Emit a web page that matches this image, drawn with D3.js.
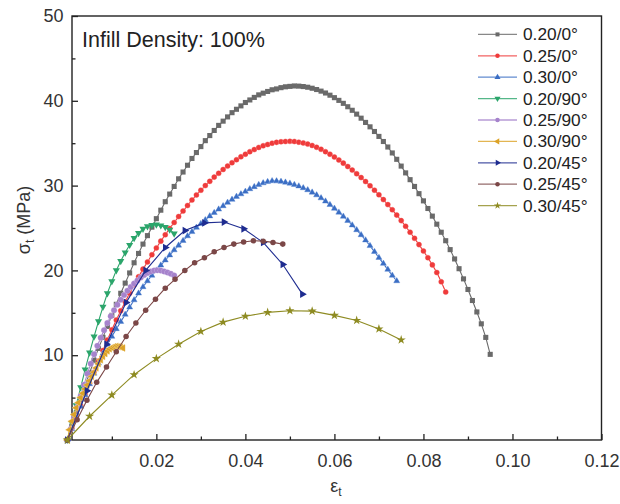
<!DOCTYPE html>
<html><head><meta charset="utf-8">
<script src="https://cdn.jsdelivr.net/npm/d3@7"></script>
<style>
html,body{margin:0;padding:0;background:#fff;}
svg{display:block;font-family:"Liberation Sans",Arial,Helvetica,sans-serif;}
</style></head>
<body><svg id="c" width="620" height="504"></svg>
<script>
// ---- data ----
const seriesNames = ["0.20/0°","0.25/0°","0.30/0°","0.20/90°","0.25/90°","0.30/90°","0.20/45°","0.25/45°","0.30/45°"];
const seriesColors = ["#6a6a6a","#ef3b3b","#3b6ec4","#2ba56b","#a683cc","#dca227","#1e2c90","#7b4747","#8e8b22"];
const xTicks = [0.02,0.04,0.06,0.08,0.10,0.12];
const yTicks = [10,20,30,40,50];

const strainGrid = [0,0.001,0.002,0.003,0.004,0.005,0.006,0.007,0.008,0.009,0.010,0.011,0.012,0.013,0.014,0.015,0.016,0.017,0.018,0.019,0.020,0.021,0.022,0.023,0.024,0.025,0.026,0.027,0.028,0.029,0.030,0.031,0.032,0.033,0.034,0.035,0.036,0.037,0.038,0.039,0.040,0.041,0.042,0.043,0.044,0.045,0.046,0.047,0.048,0.049,0.050,0.051,0.052,0.053,0.054,0.055,0.056,0.057,0.058,0.059,0.060,0.061,0.062,0.063,0.064,0.065,0.066,0.067,0.068,0.069,0.070,0.071,0.072,0.073,0.074,0.075,0.076,0.077,0.078,0.079,0.080,0.081,0.082,0.083,0.084,0.085,0.086,0.087,0.088,0.089,0.090,0.091,0.092,0.093,0.094,0.095];

const s020_0 = [0,1.6,3.2,4.8,6.4,7.9,9.4,10.8,12.1,13.4,14.7,16.0,17.3,18.5,19.7,20.9,22.0,23.1,24.1,25.1,26.1,27.1,28.1,29.0,29.9,30.8,31.6,32.4,33.2,33.9,34.6,35.3,35.9,36.5,37.1,37.6,38.1,38.6,39.0,39.4,39.8,40.1,40.4,40.7,40.9,41.1,41.3,41.4,41.55,41.65,41.7,41.75,41.73,41.68,41.6,41.48,41.33,41.14,40.92,40.66,40.37,40.05,39.7,39.3,38.88,38.43,37.95,37.45,36.93,36.38,35.8,35.2,34.55,33.85,33.1,32.3,31.5,30.7,29.9,29.05,28.2,27.3,26.4,25.45,24.5,23.5,22.45,21.35,20.2,19.0,17.75,16.45,15.1,13.7,12.1,10.1];
const s025_0 = [0,1.35,2.7,4.05,5.4,6.7,8.0,9.3,10.55,11.8,13.0,14.15,15.25,16.3,17.3,18.3,19.25,20.15,21.0,21.85,22.65,23.45,24.2,24.95,25.65,26.35,27.0,27.65,28.3,28.9,29.45,30.0,30.5,31.0,31.45,31.9,32.3,32.7,33.05,33.4,33.7,34.0,34.25,34.5,34.7,34.85,35.0,35.1,35.17,35.2,35.22,35.2,35.12,35.03,34.9,34.73,34.52,34.28,34.0,33.7,33.37,33.02,32.65,32.25,31.83,31.4,30.95,30.48,29.98,29.46,28.92,28.35,27.76,27.15,26.52,25.87,25.2,24.5,23.78,23.04,22.28,21.5,20.65,19.75,18.65,17.45];
const s030_0 = [0,1.3,2.6,3.95,5.3,6.6,7.85,9.05,10.2,11.25,12.2,13.1,13.95,14.8,15.65,16.5,17.3,18.05,18.75,19.4,20.0,20.6,21.2,21.8,22.4,22.95,23.5,24.05,24.55,25.05,25.5,25.95,26.4,26.8,27.2,27.6,28.0,28.35,28.7,29.0,29.3,29.6,29.85,30.1,30.3,30.45,30.55,30.53,30.47,30.38,30.26,30.11,29.93,29.72,29.48,29.2,28.88,28.53,28.15,27.74,27.3,26.84,26.36,25.86,25.33,24.77,24.18,23.56,22.9,22.2,21.5,20.8,20.1,19.4,18.75];
const s020_90 = [0,2.0,4.1,6.2,8.3,10.3,12.2,14.0,15.7,17.3,18.7,20.0,21.1,22.1,23.0,23.8,24.4,24.9,25.2,25.35,25.4,25.3,25.1,24.8,24.35];

const x025_90 = [0,0.00075,0.0015,0.00225,0.003,0.00375,0.0045,0.00525,0.006,0.00675,0.0075,0.00825,0.009,0.00975,0.0105,0.01125,0.012,0.01275,0.0135,0.01425,0.015,0.01575,0.0165,0.01725,0.018,0.01875,0.0195,0.02025,0.021,0.02175,0.0225,0.02325,0.024];
const s025_90 = [0,1.3,2.6,3.9,5.2,6.5,7.8,9.0,10.1,11.1,12.05,12.95,13.8,14.6,15.3,15.95,16.55,17.1,17.6,18.05,18.45,18.8,19.15,19.45,19.7,19.87,19.98,20.02,19.98,19.88,19.75,19.6,19.4];

const x030_90 = [0,0.0005,0.001,0.0015,0.002,0.0025,0.003,0.0035,0.004,0.0045,0.005,0.0055,0.006,0.0065,0.007,0.0075,0.008,0.0085,0.009,0.0095,0.010,0.0105,0.011,0.0115,0.012,0.0125];
const s030_90 = [0,1.2,2.2,3.0,3.8,4.4,5.0,5.5,6.0,6.5,7.0,7.5,8.0,8.5,9.0,9.45,9.85,10.2,10.5,10.75,10.9,11.0,11.05,11.0,10.95,10.85];

const x020_45 = [0,0.0044,0.0088,0.0132,0.0176,0.022,0.0264,0.0308,0.0352,0.0396,0.044,0.0484,0.0528];
const s020_45 = [0,5.8,11.3,16.2,20.0,22.7,24.7,25.6,25.7,24.9,23.3,20.7,17.2];

const x025_45 = [0,0.0022,0.0044,0.0066,0.0088,0.011,0.0132,0.0154,0.0176,0.0198,0.022,0.0242,0.0264,0.0286,0.0308,0.033,0.0352,0.0374,0.0396,0.0418,0.044,0.0462,0.0484];
const s025_45 = [0,2.4,4.7,6.8,8.6,10.4,12.2,13.8,15.3,16.6,17.9,18.95,20.0,20.9,21.5,22.2,22.7,23.1,23.35,23.5,23.45,23.3,23.1];

const x030_45 = [0,0.005,0.010,0.015,0.020,0.025,0.030,0.035,0.040,0.045,0.050,0.055,0.060,0.065,0.070,0.075];
const s030_45 = [0,2.8,5.3,7.7,9.6,11.3,12.8,13.9,14.6,15.05,15.25,15.2,14.7,14.1,13.1,11.8];

// ---- build series ----
function zip(xs, ys){ return ys.map((v,i)=>({x:xs[i], y:v})); }
const seriesData = [
  zip(strainGrid, s020_0),
  zip(strainGrid, s025_0),
  zip(strainGrid, s030_0),
  zip(strainGrid, s020_90),
  zip(x025_90, s025_90),
  zip(x030_90, s030_90),
  zip(x020_45, s020_45),
  zip(x025_45, s025_45),
  zip(x030_45, s030_45)
];
const symTypes = [d3.symbolSquare, d3.symbolCircle, d3.symbolTriangle, d3.symbolTriangle, d3.symbolCircle, d3.symbolTriangle, d3.symbolTriangle, d3.symbolCircle, d3.symbolStar];
const symRot = [0,0,0,180,0,-90,90,0,0];
const symSize = [26,20,16,22,24,20,26,24,26];
const symHalo = [null,"#f7a0a0","#a8c2ea",null,"#d4c2ea","#f0d496",null,null,null];

const svg = d3.select("#c");
const x = d3.scaleLinear().domain([0.00105,0.12]).range([72,601.5]);
const y = d3.scaleLinear().domain([0,50]).range([440,16]);

// frame
svg.append("rect").attr("x",x(0.00105)).attr("y",y(50)).attr("width",x(0.12)-x(0.00105)).attr("height",y(0)-y(50))
  .attr("fill","none").attr("stroke","#222").attr("stroke-width",1.4);

// axes
const gx = svg.append("g").attr("transform",`translate(0,${y(0)})`)
  .call(d3.axisBottom(x).tickValues(xTicks).tickFormat(d3.format(".2f")).tickSizeInner(-6).tickSizeOuter(0).tickPadding(14));
const gxm = svg.append("g").attr("transform",`translate(0,${y(0)})`)
  .call(d3.axisBottom(x).tickValues([0.01,0.03,0.05,0.07,0.09,0.11]).tickFormat("").tickSizeInner(-3.5).tickSizeOuter(0));
const gy = svg.append("g").attr("transform",`translate(${x(0.00105)},0)`)
  .call(d3.axisLeft(y).tickValues(yTicks).tickSizeInner(-6).tickSizeOuter(0).tickPadding(8.5));
const gym = svg.append("g").attr("transform",`translate(${x(0.00105)},0)`)
  .call(d3.axisLeft(y).tickValues([5,15,25,35,45]).tickFormat("").tickSizeInner(-3.5).tickSizeOuter(0));
[gx,gxm,gy,gym].forEach(g=>{
  g.select(".domain").remove();
  g.selectAll(".tick line").attr("stroke","#222").attr("stroke-width",1.3);
  g.selectAll(".tick text").attr("fill","#333").attr("font-size",18).attr("font-family","Liberation Sans, Arial, sans-serif");
});

// series
const line = d3.line().x(d=>x(d.x)).y(d=>y(d.y));
seriesData.forEach((data,i)=>{
  const g = svg.append("g");
  g.append("path").datum(data).attr("d",line).attr("fill","none")
    .attr("stroke",seriesColors[i]).attr("stroke-width",1.1);
  const sym = d3.symbol().type(symTypes[i]).size(symSize[i]);
  const m = g.selectAll("path.m").data(data).join("path").attr("class","m")
    .attr("d",sym)
    .attr("transform",d=>`translate(${x(d.x)},${y(d.y)}) rotate(${symRot[i]})`)
    .attr("fill",seriesColors[i]);
  if (symHalo[i]) m.attr("stroke",symHalo[i]).attr("stroke-width",0.8).attr("paint-order","stroke");
});

// legend
const lg = svg.append("g");
seriesNames.forEach((name,i)=>{
  const ly = 34.4 + i*21.4;
  lg.append("line").attr("x1",478).attr("x2",517).attr("y1",ly).attr("y2",ly)
    .attr("stroke",seriesColors[i]).attr("stroke-width",1.3).attr("stroke-opacity",0.8);
  lg.append("path").attr("d",d3.symbol().type(symTypes[i]).size(16)())
    .attr("transform",`translate(497.5,${ly}) rotate(${symRot[i]})`).attr("fill",seriesColors[i]);
  lg.append("text").attr("x",523).attr("y",ly).attr("dy","0.35em")
    .attr("font-size",17.3).attr("fill","#222").text(name);
});

// annotation
svg.append("text").attr("x",82).attr("y",47).attr("font-size",21.5).attr("fill","#222").text("Infill Density: 100%");

// axis titles
const yl = svg.append("text").attr("transform","translate(30,220) rotate(-90)").attr("text-anchor","middle")
  .attr("font-size",18).attr("fill","#333");
yl.append("tspan").text("σ");
yl.append("tspan").attr("font-size",12).attr("dy",4).text("t");
yl.append("tspan").attr("dy",-4).text(" (MPa)");

const xl = svg.append("text").attr("x",336).attr("y",492).attr("text-anchor","middle")
  .attr("font-size",18).attr("fill","#333");
xl.append("tspan").text("ε");
xl.append("tspan").attr("font-size",12).attr("dy",4).text("t");
</script></body></html>
